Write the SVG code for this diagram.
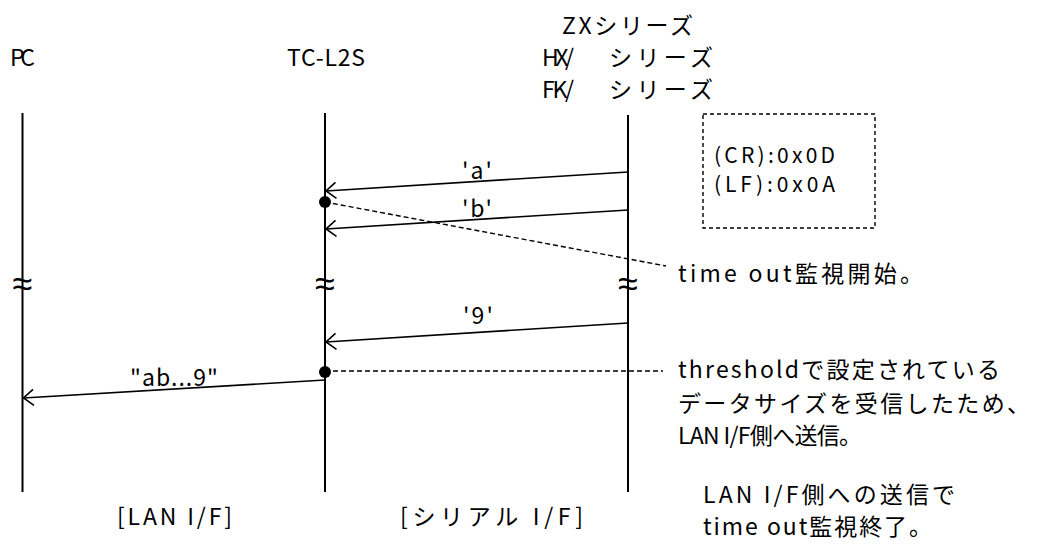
<svg xmlns="http://www.w3.org/2000/svg" width="1037" height="549" viewBox="0 0 1037 549">
<style>
text{font-family:"Noto Sans CJK JP","Noto Sans",sans-serif;font-size:23px;fill:#000}
.life{stroke:#000;stroke-width:2;fill:none}
.msg{stroke:#000;stroke-width:1.6;fill:none}
.dash{stroke:#000;stroke-width:1.4;stroke-dasharray:5,3;fill:none}
.wave{font-family:"DejaVu Sans",sans-serif;font-weight:200;font-size:36px;text-anchor:middle}
.box{font-size:21px}
</style>
<defs>
<marker id="open" viewBox="0 0 12 18" refX="11" refY="9" markerWidth="12" markerHeight="18" markerUnits="userSpaceOnUse" orient="auto">
<path d="M1,1 L11,9 L1,17" fill="none" stroke="#000" stroke-width="1.6"/>
</marker>
</defs>
<rect width="1037" height="549" fill="#fff"/>
<g id="pc">
<text x="10" y="66" textLength="25">PC</text>
<line class="life" x1="22.5" y1="113" x2="22.5" y2="492"/>
<text class="wave" x="22.5" y="296">≈</text>
</g>
<g id="tcl2s">
<text x="287" y="66" textLength="78">TC-L2S</text>
<line class="life" x1="325" y1="113" x2="325" y2="492"/>
<text class="wave" x="325" y="296">≈</text>
</g>
<g id="zx">
<text x="562" y="34" textLength="131">ZXシリーズ</text>
<text x="542" y="66"><tspan textLength="32">HX/</tspan><tspan x="609" textLength="104">シリーズ</tspan></text>
<text x="542" y="98"><tspan textLength="32">FK/</tspan><tspan x="609" textLength="104">シリーズ</tspan></text>
<line class="life" x1="628" y1="115" x2="628" y2="492"/>
<text class="wave" x="628" y="296">≈</text>
</g>
<g id="note-box">
<rect x="703" y="114" width="172" height="114" fill="none" stroke="#000" stroke-width="1.4" stroke-dasharray="4,3"/>
<text class="box" x="714" y="163" textLength="121">(CR):0x0D</text>
<text class="box" x="714" y="192" textLength="121">(LF):0x0A</text>
</g>
<g id="connectors">
<line class="msg" x1="628" y1="172" x2="326" y2="191" marker-end="url(#open)"/>
<line class="msg" x1="628" y1="210" x2="326" y2="229" marker-end="url(#open)"/>
<line class="msg" x1="628" y1="323" x2="326" y2="342" marker-end="url(#open)"/>
<line class="msg" x1="325" y1="380" x2="23.5" y2="398" marker-end="url(#open)"/>
<line class="dash" x1="325" y1="202" x2="666" y2="266"/>
<line class="dash" x1="325" y1="371" x2="663" y2="371"/>
<circle cx="325" cy="202" r="6" fill="#000"/>
<circle cx="325" cy="372" r="6" fill="#000"/>
</g>
<g id="labels">
<text x="462" y="179" textLength="30">'a'</text>
<text x="462" y="217" textLength="30">'b'</text>
<text x="463" y="324" textLength="30">'9'</text>
<text x="130" y="386" textLength="88">"ab...9"</text>
</g>
<g id="annotations">
<text x="678" y="282" textLength="245">time out監視開始。</text>
<text x="678" y="378" textLength="322">thresholdで設定されている</text>
<text x="678" y="412" textLength="352">データサイズを受信したため、</text>
<text x="678" y="444" textLength="184">LAN I/F側へ送信。</text>
<text x="117" y="525" textLength="115">[LAN I/F]</text>
<text x="400" y="525" textLength="183">[シリアル I/F]</text>
<text x="703" y="503" textLength="252">LAN I/F側への送信で</text>
<text x="703" y="535" textLength="229">time out監視終了。</text>
</g>
</svg>
